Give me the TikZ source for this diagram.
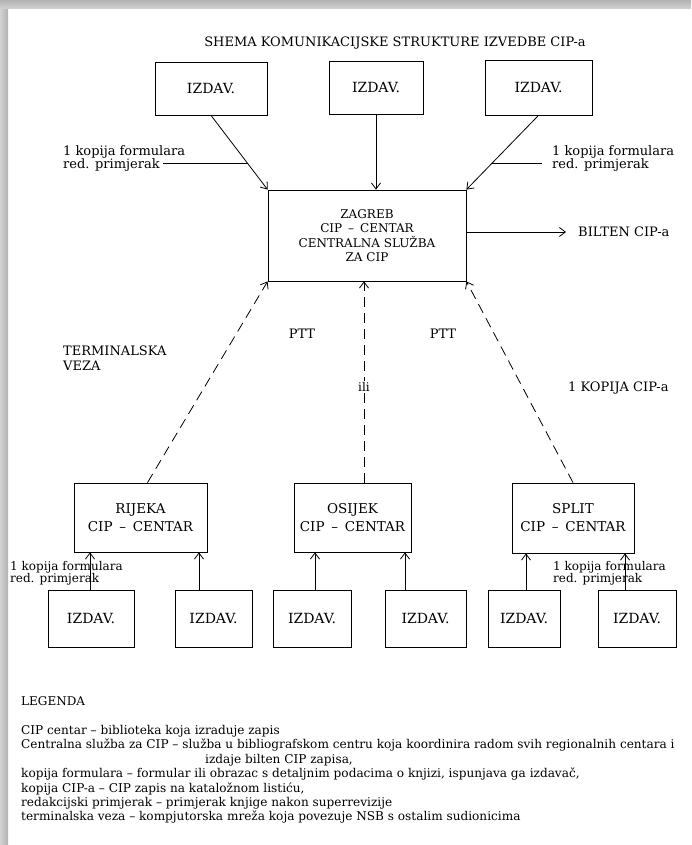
\documentclass[tikz,border=0pt]{standalone}
\usepackage{fontspec}
\setmainfont{DejaVu Serif}
\usetikzlibrary{arrows.meta}
\newlength{\du}
\setlength{\du}{1pt}
\tikzset{
  izdbox/.style={draw, line width=0.8\du, inner sep=0pt, font=\fontsize{14}{16}\selectfont},
  cipbox/.style={draw, line width=0.8\du, inner sep=0pt, align=center},
  veza/.style={line width=0.8\du, -{Straight Barb[length=6pt,width=9pt]}},
  pttveza/.style={veza, dash pattern=on 10pt off 6pt},
  lbl/.style={inner sep=0pt, align=left, font=\fontsize{13}{12.5}\selectfont},
}

\begin{document}
\begin{tikzpicture}
\pgftransformxscale{1.000000}
\pgftransformyscale{-1.000000}
\useasboundingbox (0\du,0\du) rectangle (691\du,845\du);
\fill[white] (0\du,0\du) rectangle (691\du,845\du);
% shadow of the scan
\shade[left color=gray!35, right color=gray!60] (0\du,0\du) rectangle (8\du,845\du);
\shade[top color=gray!60, bottom color=gray!35] (0\du,0\du) rectangle (691\du,9\du);

\node[font=\fontsize{13}{15}\selectfont] (naslov) at (395\du,43\du) {SHEMA KOMUNIKACIJSKE STRUKTURE IZVEDBE CIP-a};

% izdavaci gore
\node[izdbox, minimum width=112\du, minimum height=53\du] (izdA) at (211\du,88.5\du) {IZDAV.};
\node[izdbox, minimum width=94\du, minimum height=53\du] (izdB) at (376\du,87.5\du) {IZDAV.};
\node[izdbox, minimum width=107\du, minimum height=55\du] (izdC) at (538.5\du,87.5\du) {IZDAV.};

% centralna sluzba
\node[cipbox, minimum width=198\du, minimum height=91\du, font=\fontsize{12}{14.5}\selectfont] (zagreb) at (367\du,235.5\du) {ZAGREB\\CIP\enspace–\enspace CENTAR\\CENTRALNA SLUŽBA\\ZA CIP};
\node[anchor=west, inner sep=0pt, font=\fontsize{13}{14}\selectfont] (bilten) at (578\du,232\du) {BILTEN CIP-a};

\draw[veza] (izdA.south) -- coordinate[pos=0.65] (kopA) (zagreb.north west);
\draw[veza] (izdB.south) -- (izdB.south |- zagreb.north);
\draw[veza] (izdC.south) -- coordinate[pos=0.65] (kopC) (zagreb.north east);
\draw[veza] (bilten.west -| zagreb.east) -- ([xshift=-12\du]bilten.west);

\node[lbl, anchor=north west] (kopijaA) at (63\du,145\du) {1 kopija formulara\\red. primjerak};
\node[lbl, anchor=north west] (kopijaC) at (552\du,145\du) {1 kopija formulara\\red. primjerak};
\coordinate (crtaA) at (163\du,164\du);
\coordinate (crtaC) at (542\du,164\du);
\draw[line width=0.8\du] (kopA) -- (kopA -| crtaA);
\draw[line width=0.8\du] (kopC) -- (kopC -| crtaC);

% regionalni centri
\node[cipbox, minimum width=133\du, minimum height=69\du, font=\fontsize{13.5}{18}\selectfont] (rijeka) at (140.5\du,517.5\du) {RIJEKA\\CIP\enspace–\enspace CENTAR};
\node[cipbox, minimum width=117\du, minimum height=69\du, font=\fontsize{13.5}{18}\selectfont] (osijek) at (352.5\du,517.5\du) {OSIJEK\\CIP\enspace–\enspace CENTAR};
\node[cipbox, minimum width=122\du, minimum height=70\du, font=\fontsize{13.5}{18}\selectfont] (split) at (573\du,518\du) {SPLIT\\CIP\enspace–\enspace CENTAR};

\coordinate (ili) at (364\du,387\du);
\draw[pttveza] ([xshift=7\du]rijeka.north) -- (zagreb.south west);
\draw[pttveza] (ili |- osijek.north) -- (ili |- zagreb.south);
\draw[pttveza] (split.north) -- (zagreb.south east);
\node[fill=white, inner sep=1.5\du, font=\fontsize{12}{12}\selectfont] (ilinode) at (ili) {ili};

\node[font=\fontsize{13}{14}\selectfont] (pttA) at (302\du,334\du) {PTT};
\node[font=\fontsize{13}{14}\selectfont] (pttB) at (443\du,334\du) {PTT};
\node[lbl, anchor=north west, font=\fontsize{13}{14.5}\selectfont] (terminal) at (63\du,346\du) {TERMINALSKA\\VEZA};
\node[anchor=west, inner sep=0pt, font=\fontsize{13}{14}\selectfont] (kopijacip) at (568\du,388\du) {1 KOPIJA CIP-a};

% izdavaci dolje
\node[izdbox, minimum width=86\du, minimum height=57\du] (izd1) at (91\du,618.5\du) {IZDAV.};
\node[izdbox, minimum width=77\du, minimum height=57\du] (izd2) at (213.5\du,618.5\du) {IZDAV.};
\node[izdbox, minimum width=78\du, minimum height=57\du] (izd3) at (312\du,618.5\du) {IZDAV.};
\node[izdbox, minimum width=81\du, minimum height=57\du] (izd4) at (425.5\du,618.5\du) {IZDAV.};
\node[izdbox, minimum width=72\du, minimum height=57\du] (izd5) at (524\du,618.5\du) {IZDAV.};
\node[izdbox, minimum width=78\du, minimum height=57\du] (izd6) at (637\du,618.5\du) {IZDAV.};

\draw[veza] ([xshift=-1\du]izd1.north) -- ([xshift=-1\du]izd1.north |- rijeka.south);
\draw[veza] ([xshift=-14.5\du]izd2.north) -- ([xshift=-14.5\du]izd2.north |- rijeka.south);
\draw[veza] ([xshift=3\du]izd3.north) -- ([xshift=3\du]izd3.north |- osijek.south);
\draw[veza] ([xshift=-20.5\du]izd4.north) -- ([xshift=-20.5\du]izd4.north |- osijek.south);
\draw[veza] ([xshift=2\du]izd5.north) -- ([xshift=2\du]izd5.north |- split.south);
\draw[veza] ([xshift=-12\du]izd6.north) -- ([xshift=-12\du]izd6.north |- split.south);

\node[lbl, anchor=north west, font=\fontsize{12}{12.5}\selectfont] (kopija1) at (10\du,561\du) {1 kopija formulara\\red. primjerak};
\node[lbl, anchor=north west, font=\fontsize{12}{12.5}\selectfont] (kopija6) at (553\du,561\du) {1 kopija formulara\\red. primjerak};

% legenda
\node[anchor=west, inner sep=0pt, font=\fontsize{12}{12}\selectfont] (legenda) at (21\du,701\du) {LEGENDA};
\node[lbl, anchor=north west, font=\fontsize{12.1}{14.4}\selectfont] (opis) at (21\du,725\du) {CIP centar – biblioteka koja izraduje zapis\\
Centralna služba za CIP – služba u bibliografskom centru koja koordinira radom svih regionalnih centara i\\
\hspace*{184\du}izdaje bilten CIP zapisa,\\
kopija formulara – formular ili obrazac s detaljnim podacima o knjizi, ispunjava ga izdavač,\\
kopija CIP-a – CIP zapis na kataložnom listiću,\\
redakcijski primjerak – primjerak knjige nakon superrevizije\\
terminalska veza – kompjutorska mreža koja povezuje NSB s ostalim sudionicima};
\end{tikzpicture}
\end{document}
